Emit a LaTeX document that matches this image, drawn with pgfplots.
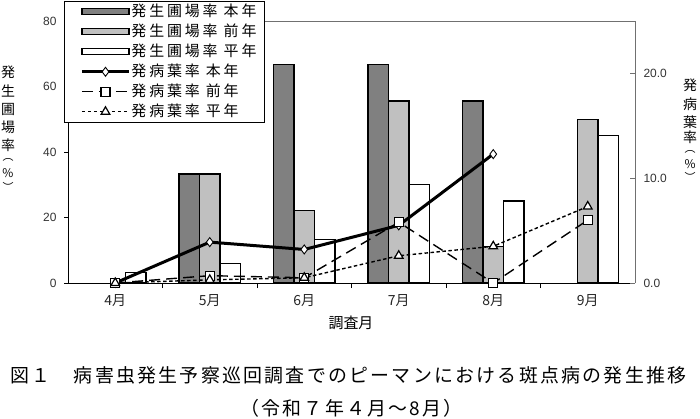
\documentclass[border=0pt]{standalone}
\usepackage{fontspec}
\setmainfont{Noto Sans CJK JP}
\newfontfamily\numfont{Liberation Sans}
\newfontfamily\legfont[LetterSpace=19]{Noto Sans CJK JP}
\newfontfamily\capfont[LetterSpace=12]{Noto Sans CJK JP}
\usepackage{pgfplots}
\usepackage{pgfplotstable}
\pgfplotsset{compat=1.18}

\definecolor{darkbar}{HTML}{808080}
\definecolor{lightbar}{HTML}{C0C0C0}
\definecolor{frame}{HTML}{707070}

% 発生圃場率 (%), bars, left axis
\pgfplotstableread{
x hon  zen  hei
0 nan  nan  3.1
1 33.3 33.3 6.0
2 66.7 22.2 13.3
3 66.7 55.6 30.0
4 55.6 11.1 25.0
5 nan  50.0 45.0
}\fields

% 発病葉率 (%), lines, right axis
\pgfplotstableread{
x hon  zen hei
0 0.0  0.0 0.0
1 3.9  0.7 0.3
2 3.2  0.5 0.5
3 5.5  5.8 2.6
4 12.3 0.0 3.5
5 nan  6.0 7.3
}\leaves

\pgfplotsset{
  barlegend/.style={legend image code/.code={
      \path (0bp,0bp);
      \draw[##1,line width=1.3bp] (9bp,-3bp) rectangle (56bp,3bp);}},
  linelegend/.style={legend image code/.code={
      \path (0bp,0bp);
      \draw[mark repeat=2,mark phase=2,##1] plot coordinates {(9bp,0bp) (32.5bp,0bp) (56bp,0bp)};}},
}

\begin{document}
\begin{tikzpicture}[x=1bp,y=1bp]
\path (0,0) rectangle (700,418);

\begin{axis}[
  at={(68bp,135bp)}, anchor=south west,
  width=567bp, height=262bp, scale only axis,
  xmin=-0.5, xmax=5.5, ymin=0, ymax=80,
  axis x line*=bottom, axis y line*=left,
  axis line style={line width=0.9bp},
  ytick={0,20,40,60,80},
  xtick={0,...,5},
  xticklabels={4月,5月,6月,7月,8月,9月},
  minor xtick={0.5,1.5,2.5,3.5,4.5},
  xtick align=inside, ytick align=outside,
  major x tick style={draw=none},
  minor x tick style={black,line width=0.8bp},
  minor tick length=5bp,
  major tick length=4bp,
  y tick style={black,line width=0.8bp},
  /pgf/number format/assume math mode=true,
  yticklabel style={font=\numfont\fontsize{12}{12}\selectfont, text=black!80, xshift=-4bp},
  xticklabel style={font=\fontsize{14}{14}\selectfont, text=black!85, yshift=-4bp},
  ybar=0pt, bar width=20.5bp,
  every axis plot/.append style={draw=black, line width=1.3bp},
]
  \addplot[fill=darkbar] table[x=x,y=hon]{\fields};
  \addplot[fill=lightbar] table[x=x,y=zen]{\fields};
  \addplot[fill=white] table[x=x,y=hei]{\fields};
\end{axis}

\begin{axis}[
  at={(68bp,135bp)}, anchor=south west,
  width=567bp, height=262bp, scale only axis,
  xmin=-0.5, xmax=5.5, ymin=0, ymax=25,
  axis x line*=top, axis y line*=right,
  axis line style={frame, line width=0.9bp},
  xtick=\empty,
  ytick={0,10,20},
  ytick align=inside, major tick length=5bp,
  y tick style={frame,line width=0.8bp},
  /pgf/number format/assume math mode=true,
  /pgf/number format/fixed, /pgf/number format/fixed zerofill,
  /pgf/number format/precision=1,
  yticklabel style={font=\numfont\fontsize{12}{12}\selectfont, text=black!80, xshift=5bp},
  legend style={at={(-0.007,1.076)}, anchor=north west,
    draw=black, line width=0.9bp, fill=white,
    font=\legfont\fontsize{15}{15}\selectfont,
    inner xsep=7bp, inner ysep=2bp, row sep=3.5bp,
    nodes={inner sep=1bp, text height=12bp, text depth=2.5bp}},
  legend cell align=left,
]
  \addlegendimage{barlegend, fill=darkbar}
  \addlegendentry{発生圃場率 本年}
  \addlegendimage{barlegend, fill=lightbar}
  \addlegendentry{発生圃場率 前年}
  \addlegendimage{barlegend, fill=white}
  \addlegendentry{発生圃場率 平年}

  \addplot[linelegend, black, line width=3bp, mark=diamond*,
    mark size=4.5bp, mark options={solid, fill=white, line width=0.9bp}]
    table[x=x,y=hon]{\leaves};
  \addlegendentry{発病葉率 本年}
  \addplot[linelegend, black, line width=1.4bp, dash pattern=on 11bp off 6bp,
    mark=square*, mark size=4.5bp, mark options={solid, fill=white, line width=1.2bp}]
    table[x=x,y=zen]{\leaves};
  \addlegendentry{発病葉率 前年}
  \addplot[linelegend, black, line width=1.4bp, dash pattern=on 3.5bp off 2.5bp,
    mark=triangle*, mark size=5bp, mark options={solid, fill=white, line width=1.2bp}]
    table[x=x,y=hei]{\leaves};
  \addlegendentry{発病葉率 平年}
\end{axis}

% axis titles
\begin{scope}[every node/.style={font=\fontsize{14}{14}\selectfont, inner sep=0pt}]
  \node at (8,346) {発};
  \node at (8,327) {生};
  \node at (8,309) {圃};
  \node at (8,291) {場};
  \node at (8,273) {率};
  \node[font=\fontsize{11}{11}\selectfont] at (8,258) {︵};
  \node[font=\fontsize{12}{12}\selectfont] at (8,245) {\%};
  \node[font=\fontsize{11}{11}\selectfont] at (8,231) {︶};
  \node at (690,333) {発};
  \node at (690,314) {病};
  \node at (690,296) {葉};
  \node at (690,281) {率};
  \node[font=\fontsize{11}{11}\selectfont] at (690,266) {︵};
  \node[font=\fontsize{12}{12}\selectfont] at (690,254) {\%};
  \node[font=\fontsize{11}{11}\selectfont] at (690,241) {︶};
  \node[font=\fontsize{15}{15}\selectfont] at (351,95) {調査月};
\end{scope}

% caption
\node[anchor=west, inner sep=0pt, font=\capfont\fontsize{19}{19}\selectfont] at (10,43)
  {図１　病害虫発生予察巡回調査でのピーマンにおける斑点病の発生推移};
\node[anchor=west, inner sep=0pt, font=\capfont\fontsize{19}{19}\selectfont] at (240,10)
  {（令和７年４月～8月）};
\end{tikzpicture}
\end{document}
